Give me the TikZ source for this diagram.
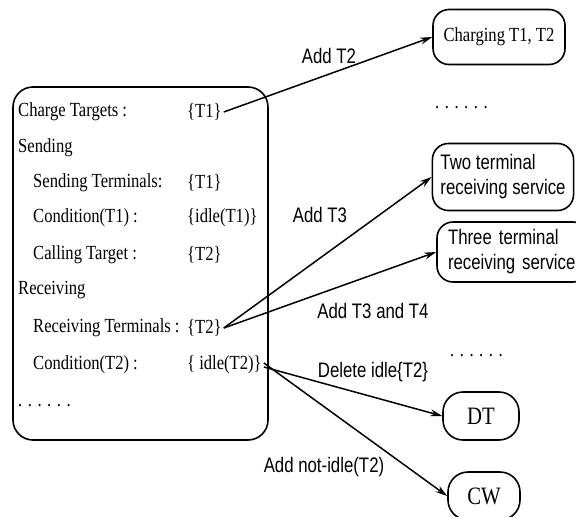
\documentclass[tikz,border=0pt]{standalone}
\usepackage{fontspec}
\setmainfont{Liberation Serif}
\newfontfamily\rowfont[FakeStretch=0.83]{Liberation Serif}
\newfontfamily\lblfont[FakeStretch=0.8]{Liberation Sans}
\usetikzlibrary{arrows.meta,positioning}

\tikzset{
  row/.style={font=\rowfont\fontsize{20}{24}\selectfont, inner sep=0pt, anchor=west},
  lbl/.style={font=\lblfont\fontsize{21}{25}\selectfont, inner sep=0pt},
  state/.style={draw, line width=1.6pt, rounded corners=16pt, inner xsep=8pt},
  link/.style={line width=1.5pt, -{Stealth[length=12pt,width=7pt]}}
}

\begin{document}
\begin{tikzpicture}[x=1pt,y=-1pt]
\useasboundingbox (0,0) rectangle (576,517);
% call record
\node[draw, line width=1.6pt, rounded corners=20pt, minimum width=255pt, minimum height=353pt] (rec) at (140.5,263.5) {};
\foreach \i/\x/\y/\t in {1/18/112/Charge Targets :, 2/18/148/Sending, 3/33/183/Sending Terminals:,
  4/33/218/Condition(T1) :, 5/33/255/Calling Target :, 6/18/290/Receiving,
  7/33/328/Receiving Terminals :, 8/33/365/Condition(T2) :} {
  \node[row] (k\i) at (\x,\y) {\t};
}
\foreach \i/\y/\t in {1/112/\{T1\}, 3/183/\{T1\}, 4/218/\{idle(T1)\}, 5/255/\{T2\}, 7/328/\{T2\}, 8/365/\{ idle(T2)\}} {
  \node[row] (v\i) at (187,\y) {\t};
}
\node[row] (dl) at (18,406) {. . . . . .};

% resulting states
\node[state, minimum width=132pt, minimum height=55pt, font=\rowfont\fontsize{20}{24}\selectfont] (chg) at (499,37) {Charging T1, T2};
\node[row] (d1) at (435,108) {. . . . . .};
\node[state, lbl, inner xsep=8pt, inner ysep=8pt, align=left, minimum height=67pt] (two) at (503,177) {Two terminal\\receiving service};
\node[state, lbl, inner xsep=11pt, inner ysep=6pt, text width=130pt, align=left, minimum height=60pt] (three) at (513,252) {Three terminal\\receiving service};
\node[row] (d2) at (450,356) {. . . . . .};
\node[state, rounded corners=20pt, minimum width=76pt, minimum height=48pt, font=\rowfont\fontsize{25}{28}\selectfont] (dt) at (481,416) {DT};
\node[state, rounded corners=20pt, minimum width=72pt, minimum height=48pt, font=\rowfont\fontsize{25}{28}\selectfont] (cw) at (484,496) {CW};

% transitions
\draw[link] ([xshift=2pt]v1.east) -- (chg.west);
\draw[link] ([xshift=2pt]v7.east) -- (two.west);
\draw[link] ([xshift=2pt]v7.east) -- (three.west);
\draw[link] ([xshift=2pt,yshift=-2pt]v8.east) -- (dt.west);
\draw[link] ([xshift=2pt,yshift=2pt]v8.east) -- (cw.west);

\node[lbl] (a1) at (329,56) {Add T2};
\node[lbl] (a2) at (320,215) {Add T3};
\node[lbl] (a3) at (373,311) {Add T3 and T4};
\node[lbl] (a4) at (373,372) {Delete idle\{T2\}};
\node[lbl] (a5) at (324,467) {Add not-idle(T2)};
\end{tikzpicture}
\end{document}
